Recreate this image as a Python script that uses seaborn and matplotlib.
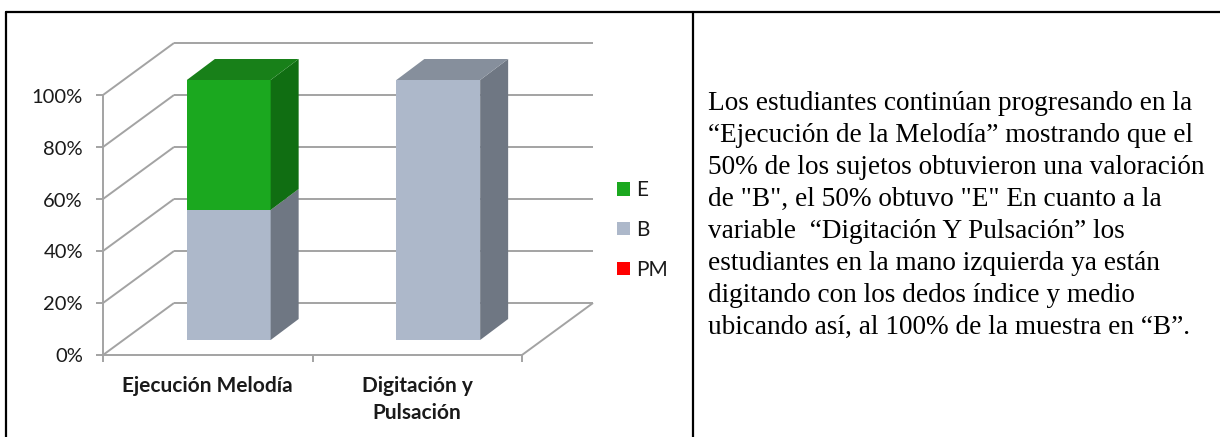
import matplotlib
matplotlib.use("Agg")
import numpy as np
import pandas as pd
import matplotlib.pyplot as plt
from matplotlib.patches import Polygon, Patch
from matplotlib.lines import Line2D
from matplotlib.transforms import IdentityTransform
import seaborn as sns

# ---- data -------------------------------------------------------------
categories = ["Ejecución Melodía", "Digitación y\nPulsación"]
pct_E = [50, 0]
pct_B = [50, 100]
pct_PM = [0, 0]
series = ["E", "B", "PM"]                 # legend order (top of stack first)
y_ticks = [0, 20, 40, 60, 80, 100]
y_tick_labels = ["0%", "20%", "40%", "60%", "80%", "100%"]

body_lines = [
    "Los estudiantes continúan progresando en la",
    "“Ejecución de la Melodía” mostrando que el",
    "50% de los sujetos obtuvieron una valoración",
    "de \"B\", el 50% obtuvo \"E\" En cuanto a la",
    "variable  “Digitación Y Pulsación” los",
    "estudiantes en la mano izquierda ya están",
    "digitando con los dedos índice y medio",
    "ubicando así, al 100% de la muestra en “B”.",
]

# ---- styling ----------------------------------------------------------
face = {"E": "#1BA81F", "B": "#ADB8CA", "PM": "#FF0000"}
top_face = {"E": "#188019", "B": "#868F9C", "PM": "#B00000"}
side_face = {"E": "#106E12", "B": "#6F7783", "PM": "#900000"}
grid_col = "#A3A3A3"
label_col = "#1a1a1a"

W, H = 1220, 437
sns.set_theme(style="white")
plt.rcParams["font.family"] = ["Lato", "DejaVu Sans"]

fig = plt.figure(figsize=(W / 100, H / 100), dpi=100)
fig.patch.set_facecolor("white")


def box(l, t, r, b):
    return [l / W, 1 - b / H, (r - l) / W, (b - t) / H]


# axes spans the front plane of the bars
ax = fig.add_axes(box(124, 80, 543, 340))
XLIM, YLIM = (-0.5, 1.5), (0, 100)

df = pd.DataFrame({"cat": categories, "E": pct_E, "B": pct_B, "PM": pct_PM})
stack = ["PM", "B", "E"]                  # bottom to top
cum = np.zeros(len(df))
tops, bottoms = {}, {}
for s in stack:
    bottoms[s] = cum.copy()
    cum = cum + df[s].to_numpy()
    tops[s] = cum.copy()
    df["top_" + s] = tops[s]

# front faces: draw cumulative totals, tallest first
layer_patches = {}
for s in ["E", "B", "PM"]:
    n0 = len(ax.patches)
    sns.barplot(data=df, x="cat", y="top_" + s, color=face[s], saturation=1,
                width=0.4, errorbar=None, linewidth=0, zorder=3, ax=ax)
    layer_patches[s] = ax.patches[n0:]

ax.set_xlim(*XLIM)
ax.set_ylim(*YLIM)
ax.autoscale(False)
ax.axis("off")

ident = IdentityTransform()
FRONT = np.array([-21.0, -15.0])          # axis plane relative to bar plane
BACK = np.array([50.0, 37.0])             # back wall relative to bar plane
DEPTH = np.array([28.0, 21.0])            # bar depth


def P(x, y, off=(0, 0)):
    return ax.transData.transform((x, y)) + np.asarray(off)


def line(p, q, **kw):
    kw.setdefault("color", grid_col)
    kw.setdefault("lw", 1.4)
    ax.add_line(Line2D([p[0], q[0]], [p[1], q[1]], transform=ident,
                       clip_on=False, solid_capstyle="butt", **kw))


# walls and floor
for v in y_ticks:
    line(P(XLIM[0], v, BACK), P(XLIM[1], v, BACK), zorder=1)
    line(P(XLIM[0], v, FRONT), P(XLIM[0], v, BACK), zorder=1)
line(P(XLIM[0], 0, FRONT), P(XLIM[1], 0, FRONT), zorder=1)
line(P(XLIM[1], 0, FRONT), P(XLIM[1], 0, BACK), zorder=1)
line(P(XLIM[0], 0, FRONT), P(XLIM[0], 100, FRONT), zorder=1)
for v, lab in zip(y_ticks, y_tick_labels):
    p = P(XLIM[0], v, FRONT)
    line(p, p + np.array([-7, 0]), zorder=1)
    ax.text(p[0] - 20, p[1] - 2, lab, transform=ident, ha="right", va="center",
            fontsize=14.5, color=label_col)
for xv in [-0.5, 0.5, 1.5]:
    p = P(xv, 0, FRONT)
    line(p, p + np.array([0, -7]), zorder=1)

# 3D faces of each stacked segment
for i in range(len(df)):
    top_s = None
    for s in stack:
        if df[s].iloc[i] > 0:
            top_s = s
    for s in stack:
        if df[s].iloc[i] <= 0:
            continue
        r = layer_patches[s][i]
        x0, w = r.get_x(), r.get_width()
        b, t = bottoms[s][i], tops[s][i]
        br, tr = P(x0 + w, b), P(x0 + w, t)
        ax.add_patch(Polygon([br, tr, tr + DEPTH, br + DEPTH], closed=True,
                             transform=ident, facecolor=side_face[s],
                             edgecolor="none", clip_on=False, zorder=3))
        if s == top_s:
            tl = P(x0, t)
            ax.add_patch(Polygon([tl, tr, tr + DEPTH, tl + DEPTH], closed=True,
                                 transform=ident, facecolor=top_face[s],
                                 edgecolor="none", clip_on=False, zorder=3))

# category labels
for k, cat in enumerate(categories):
    p = P(k, 0, FRONT)
    for j, part in enumerate(cat.split("\n")):
        ax.text(p[0], H - 392 - 27 * j, part, transform=ident, ha="center",
                va="baseline", fontsize=15, fontweight="bold", color=label_col)

# legend
handles = [Patch(facecolor=face[s], edgecolor="none", label=s) for s in series]
fig.legend(handles=handles, loc="upper left",
           bbox_to_anchor=(609 / W, 1 - 172 / H), frameon=False,
           fontsize=15, handlelength=0.6, handleheight=0.6,
           labelspacing=0.95, handletextpad=0.3, borderaxespad=0,
           labelcolor=label_col)

# descriptive paragraph
for j, txt in enumerate(body_lines):
    fig.text(708 / W, 1 - (110 + 32 * j) / H, txt, ha="left", va="baseline",
             fontsize=19.6, family=["Liberation Serif", "DejaVu Serif"],
             color="black")

# table borders
for (x0, y0, x1, y1) in [(6, 12, W, 12), (6, 12, 6, H), (693, 12, 693, H)]:
    fig.add_artist(Line2D([x0 / W, x1 / W], [1 - y0 / H, 1 - y1 / H],
                          transform=fig.transFigure, color="black", lw=1.6))

fig.savefig("out.png", dpi=100)
